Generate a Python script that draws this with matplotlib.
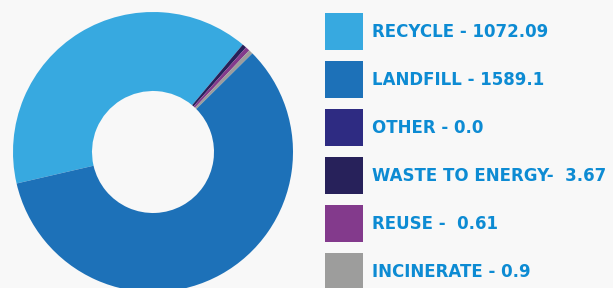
import numpy as np
import matplotlib.pyplot as plt
from matplotlib.patches import Rectangle

# waste streams, legend order
labels = ["RECYCLE", "LANDFILL", "OTHER", "WASTE TO ENERGY", "REUSE", "INCINERATE"]
values = [1072.09, 1589.1, 0.0, 3.67, 0.61, 0.9]
legend_text = ["RECYCLE - 1072.09", "LANDFILL - 1589.1", "OTHER - 0.0",
               "WASTE TO ENERGY-  3.67", "REUSE -  0.61", "INCINERATE - 0.9"]
colors = ["#37a9e0", "#1d71b8", "#2e2b82", "#27215a", "#833a8c", "#9d9d9c"]

# order the slices are laid out clockwise around the ring
ring_order = [0, 2, 3, 4, 5, 1]

bg = "#f8f8f8"
text_col = "#0d8bd3"
W, H = 613, 288

fig = plt.figure(figsize=(W / 100, H / 100), dpi=100, facecolor=bg)

# donut: centre (153,152) px, outer radius 140 px, hole radius 61 px
cx, cy, R, r = 153, 152, 140, 61
ax = fig.add_axes([(cx - R) / W, (H - cy - R) / H, 2 * R / W, 2 * R / H])
ax.set_facecolor(bg)

vals = np.array(values)
total = vals.sum()
# tiny streams get a minimum visible share so they show up as slivers
shown = np.where(vals > 0, np.maximum(vals, total * 0.005), 0)

wedges, _ = ax.pie(shown[ring_order], colors=[colors[i] for i in ring_order],
                   startangle=193, counterclock=False, radius=1,
                   wedgeprops=dict(width=(R - r) / R, linewidth=0))
for w in wedges:
    w.set_clip_on(False)
ax.set_xlim(-1, 1)
ax.set_ylim(-1, 1)
ax.set_aspect("equal")
ax.axis("off")

# legend drawn in pixel space
lg = fig.add_axes([0, 0, 1, 1], facecolor="none")
lg.set_xlim(0, W)
lg.set_ylim(H, 0)
lg.axis("off")
for i, txt in enumerate(legend_text):
    top = 13 + 48 * i
    lg.add_patch(Rectangle((325, top), 38, 37, facecolor=colors[i],
                           edgecolor="none", clip_on=False))
    lg.text(372, top + 19, txt, color=text_col, fontsize=12.0,
            fontweight="bold", family="DejaVu Sans", va="center", ha="left")

fig.savefig("out.png", dpi=100, facecolor=bg)
